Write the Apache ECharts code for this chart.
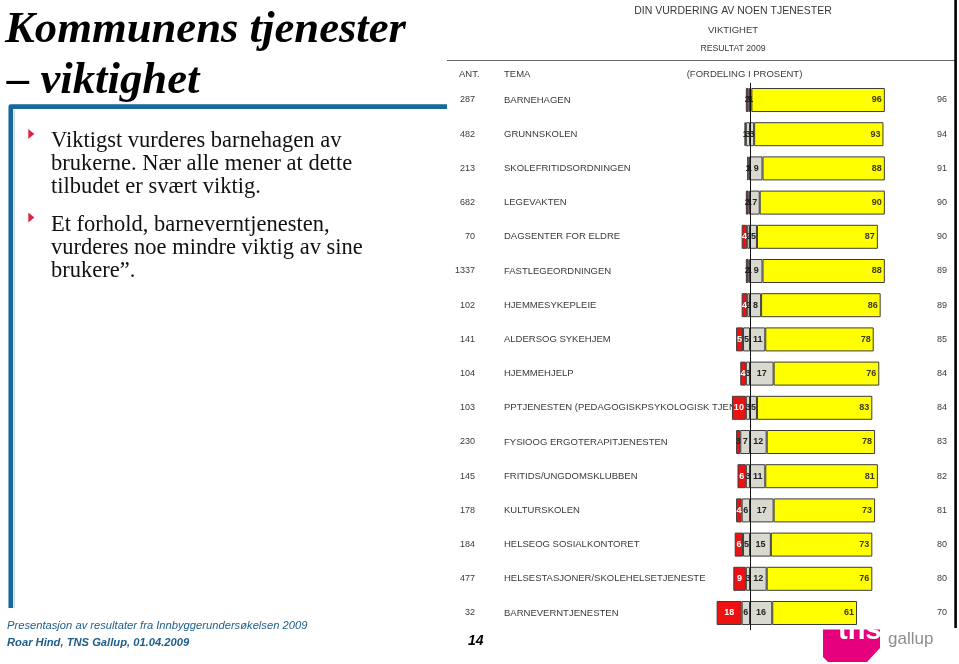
<!DOCTYPE html>
<html><head><meta charset="utf-8">
<script src="https://cdn.jsdelivr.net/npm/echarts@6/dist/echarts.min.js"></script>
<style>html,body{margin:0;padding:0;background:#fff}#c{width:959px;height:664px}</style>
</head><body><div id="c"></div>
<script>
// ---- data ----
const categories = ['BARNEHAGEN','GRUNNSKOLEN','SKOLEFRITIDSORDNINGEN','LEGEVAKTEN','DAGSENTER FOR ELDRE','FASTLEGEORDNINGEN','HJEMMESYKEPLEIE','ALDERSOG SYKEHJEM','HJEMMEHJELP','PPTJENESTEN (PEDAGOGISKPSYKOLOGISK TJENESTE)','FYSIOOG ERGOTERAPITJENESTEN','FRITIDS/UNGDOMSKLUBBEN','KULTURSKOLEN','HELSEOG SOSIALKONTORET','HELSESTASJONER/SKOLEHELSETJENESTE','BARNEVERNTJENESTEN'];
const antall = ['287','482','213','682','70','1337','102','141','104','103','230','145','178','184','477','32'];
const ikkeViktig = [2,1,1,2,4,2,4,5,4,10,3,6,4,6,9,18];      // red, left of baseline
const lite = [1,3,1,1,2,1,2,5,3,3,7,3,6,5,3,6];              // grey, left of baseline
const noe = [1,3,9,7,5,9,8,11,17,5,12,11,17,15,12,16];       // grey, right of baseline
const svaert = [96,93,88,90,87,88,86,78,76,83,78,81,73,73,76,61]; // yellow
const sumViktig = ['96','94','91','90','90','89','89','85','84','84','83','82','81','80','80','70'];

// ---- layout ----
const gridLeft = 715.25, gridW = 173.75, gridTop = 82.9, gridH = 547.2;
const SANS = 'Liberation Sans';
const lblBase = {show:true, fontFamily:SANS, fontSize:9, fontWeight:'bold'};
const border = {borderColor:'#3c3c3c', borderWidth:1};

const chart = echarts.init(document.getElementById('c'), null, {renderer:'canvas'});
const option = {
  animation:false,
  backgroundColor:'#fff',
  grid:{left:gridLeft, top:gridTop, width:gridW, height:gridH, containLabel:false, outerBoundsMode:'none'},
  xAxis:{type:'value', min:-25, max:100, show:false},
  yAxis:[
    {type:'category', data:categories, inverse:true, position:'left',
     axisLine:{show:false}, axisTick:{show:false}, splitLine:{show:false},
     axisLabel:{interval:0, align:'left', margin:gridLeft-504, fontFamily:SANS, fontSize:9.5, color:'#3a3a3a'}},
    {type:'category', data:antall, inverse:true, position:'left',
     axisLine:{show:false}, axisTick:{show:false}, splitLine:{show:false},
     axisLabel:{interval:0, align:'right', margin:gridLeft-475, fontFamily:SANS, fontSize:9, color:'#3a3a3a'}},
    {type:'category', data:sumViktig, inverse:true, position:'right',
     axisLine:{show:false}, axisTick:{show:false}, splitLine:{show:false},
     axisLabel:{interval:0, align:'right', margin:947-(gridLeft+gridW), fontFamily:SANS, fontSize:9, color:'#3a3a3a'}}
  ],
  series:[
    {type:'bar', stack:'s', barWidth:24, data:lite.map(v=>-v),
     itemStyle:Object.assign({color:'#d9d9d0'}, border),
     label:Object.assign({}, lblBase, {position:'inside', color:'#222', formatter:p=>Math.abs(p.value)})},
    {type:'bar', stack:'s', barWidth:24,
     data:ikkeViktig.map(v=>({value:-v, label:{color: v>=4 ? '#fff' : '#222'}})),
     itemStyle:Object.assign({color:'#ee1111'}, border),
     label:Object.assign({}, lblBase, {position:'inside', formatter:p=>Math.abs(p.value)})},
    {type:'bar', stack:'s', barWidth:24, data:noe,
     itemStyle:Object.assign({color:'#d9d9d0'}, border),
     label:Object.assign({}, lblBase, {position:'inside', color:'#222'})},
    {type:'bar', stack:'s', barWidth:24, data:svaert,
     itemStyle:Object.assign({color:'#ffff00'}, border),
     label:Object.assign({}, lblBase, {position:'insideRight', distance:3, color:'#3a3a1a'}),
     markLine:{silent:true, symbol:'none', label:{show:false},
       lineStyle:{color:'#111', width:1, type:'solid'}, data:[{xAxis:0}]}}
  ],
  graphic:[
    // title
    {type:'text', x:5, y:30.5, style:{text:'Kommunens tjenester', font:'italic bold 44.7px "Liberation Serif"', fill:'#000', verticalAlign:'middle'}},
    {type:'text', x:7, y:81.5, style:{text:'– viktighet', font:'italic bold 44.7px "Liberation Serif"', fill:'#000', verticalAlign:'middle'}},
    // blue frame
    {type:'polyline', shape:{points:[[447,106.7],[10.8,106.7],[10.8,608]]}, style:{stroke:'#19689a', lineWidth:4.7, lineJoin:'round', fill:null}},
    {type:'line', shape:{x1:14.5, y1:110, x2:14.5, y2:608}, style:{stroke:'#cfdde8', lineWidth:1}},
    // bullets
    {type:'polygon', shape:{points:[[28.3,129],[34.3,134],[28.3,139]]}, style:{fill:'#d8253f'}},
    {type:'polygon', shape:{points:[[28.3,212.5],[34.3,217.5],[28.3,222.5]]}, style:{fill:'#d8253f'}},
    {type:'text', x:51, y:129.8, style:{text:'Viktigst vurderes barnehagen av\nbrukerne. Nær alle mener at dette\ntilbudet er svært viktig.', font:'22.5px "Liberation Serif"', lineHeight:23, fill:'#111', verticalAlign:'top'}},
    {type:'text', x:51, y:213.2, style:{text:'Et forhold, barneverntjenesten,\nvurderes noe mindre viktig av sine\nbrukere”.', font:'22.5px "Liberation Serif"', lineHeight:23, fill:'#111', verticalAlign:'top'}},
    // footer
    {type:'text', x:7, y:625.5, style:{text:'Presentasjon av resultater fra Innbyggerundersøkelsen 2009', font:'italic 11.2px "Liberation Sans"', fill:'#1d5e8c', verticalAlign:'middle'}},
    {type:'text', x:7, y:642.5, style:{text:'Roar Hind, TNS Gallup, 01.04.2009', font:'italic bold 11.2px "Liberation Sans"', fill:'#1d5e8c', verticalAlign:'middle'}},
    {type:'text', x:468, y:641, style:{text:'14', font:'italic bold 14px "Liberation Sans"', fill:'#000', verticalAlign:'middle'}},
    // chart picture header
    {type:'line', shape:{x1:447, y1:60.5, x2:955, y2:60.5}, style:{stroke:'#666', lineWidth:1}},
    {type:'rect', shape:{x:954.3, y:0, width:2.6, height:628}, style:{fill:'#000'}},
    {type:'text', x:733, y:10.8, style:{text:'DIN VURDERING AV NOEN TJENESTER', font:'10.5px "Liberation Sans"', fill:'#3a3a3a', align:'center', verticalAlign:'middle'}},
    {type:'text', x:733, y:30.8, style:{text:'VIKTIGHET', font:'9.5px "Liberation Sans"', fill:'#3a3a3a', align:'center', verticalAlign:'middle'}},
    {type:'text', x:733, y:48.3, style:{text:'RESULTAT 2009', font:'8.7px "Liberation Sans"', fill:'#3a3a3a', align:'center', verticalAlign:'middle'}},
    {type:'text', x:459, y:74, style:{text:'ANT.', font:'9.5px "Liberation Sans"', fill:'#3a3a3a', verticalAlign:'middle'}},
    {type:'text', x:504, y:74, style:{text:'TEMA', font:'9.5px "Liberation Sans"', fill:'#3a3a3a', verticalAlign:'middle'}},
    {type:'text', x:744.5, y:74, style:{text:'(FORDELING I PROSENT)', font:'9.5px "Liberation Sans"', fill:'#3a3a3a', align:'center', verticalAlign:'middle'}},
    // tns gallup logo
    {type:'polygon', shape:{points:[[823,629.5],[880,629.5],[880,648],[867,662],[828,662],[823,657]]}, style:{fill:'#e6007e'}},
    {type:'text', x:838, y:631, style:{text:'tns', font:'bold 29px "Liberation Sans"', fill:'#fff', verticalAlign:'middle'}},
    {type:'text', x:888, y:639.7, style:{text:'gallup', font:'17px "Liberation Sans"', fill:'#8d8d8d', verticalAlign:'middle'}}
  ]
};
chart.setOption(option);
</script>
</body></html>
